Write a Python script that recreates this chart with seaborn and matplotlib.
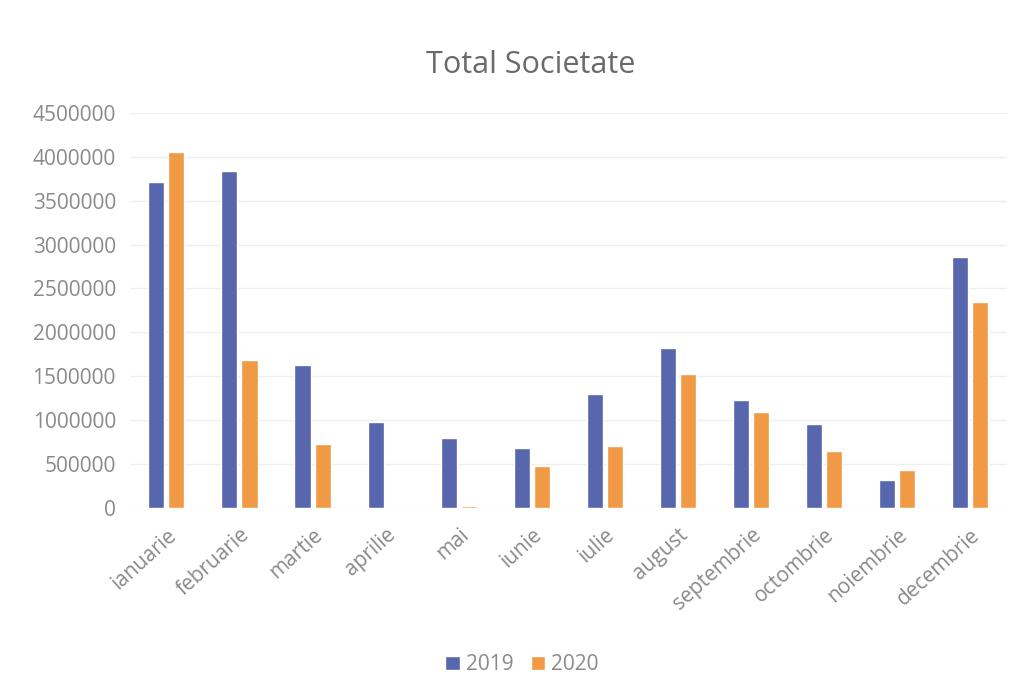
import matplotlib
matplotlib.use("Agg")
import matplotlib.pyplot as plt
import seaborn as sns
import pandas as pd
from matplotlib.patches import Patch

months = ["ianuarie", "februarie", "martie", "aprilie", "mai", "iunie",
          "iulie", "august", "septembrie", "octombrie", "noiembrie", "decembrie"]
values_2019 = [3715000, 3840000, 1630000, 980000, 800000, 680000,
               1300000, 1820000, 1230000, 950000, 320000, 2860000]
values_2020 = [4050000, 1680000, 730000, 0, 20000, 480000,
               710000, 1520000, 1090000, 650000, 430000, 2350000]
series = ["2019", "2020"]
yticks = [0, 500000, 1000000, 1500000, 2000000, 2500000, 3000000, 3500000, 4000000, 4500000]

df = pd.DataFrame({
    "luna": months * 2,
    "an": [series[0]] * 12 + [series[1]] * 12,
    "valoare": values_2019 + values_2020,
})

sns.set_theme(style="white")
plt.rcParams["font.family"] = ["Open Sans", "DejaVu Sans"]

colors = {"2019": "#5866AE", "2020": "#F09A45"}
txt = "#8a8a8a"

fig = plt.figure(figsize=(10.14, 6.89), dpi=100)
ax = fig.add_axes([0.128, 0.263, 0.865, 0.573])
sns.barplot(data=df, x="luna", y="valoare", hue="an", order=months,
            hue_order=series, palette=colors, width=0.55, gap=0.2,
            saturation=1, legend=False, ax=ax)

ax.set_xlim(-0.5, 11.5)
ax.set_ylim(0, 4500000)
ax.set_yticks(yticks)
ax.set_yticklabels([str(v) for v in yticks])
ax.yaxis.grid(True, color="#efefef", linewidth=1)
ax.set_axisbelow(True)
for s in ax.spines.values():
    s.set_visible(False)
ax.set_xlabel("")
ax.set_ylabel("")
ax.tick_params(axis="y", labelsize=15, colors=txt, length=0, pad=10)
ax.tick_params(axis="x", labelsize=15, colors=txt, length=0, pad=12)
for lab in ax.get_xticklabels():
    lab.set_rotation(42)
    lab.set_ha("right")
    lab.set_rotation_mode("anchor")

fig.text(0.523, 0.906, "Total Societate", ha="center", va="center",
         fontsize=22, color="#6a6a6a")

handles = [Patch(facecolor=colors[s], label=s) for s in series]
fig.legend(handles=handles, loc="center", bbox_to_anchor=(0.515, 0.035), ncol=2,
           frameon=False, fontsize=15, labelcolor=txt, handlelength=0.7,
           handleheight=0.7, handletextpad=0.3, columnspacing=0.8)

fig.savefig("out.png", dpi=100, facecolor="white")
